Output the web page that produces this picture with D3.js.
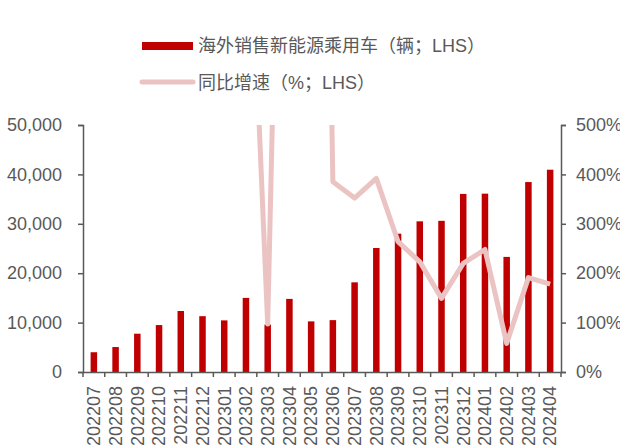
<!DOCTYPE html>
<head>
  <meta charset="utf-8">
  <title>海外销售新能源乘用车</title>
  <script src="https://d3js.org/d3.v7.min.js"></script>
  <style type="text/css">
    body {margin: 0; background: #fff;}
    text {font-family: "Liberation Sans", Arial, "Noto Sans CJK SC", sans-serif; fill: #595959;}
  </style>
</head>
<body>
  <div id="viz"></div>
</body>
<script type="text/javascript">

  const months = ["202207", "202208", "202209", "202210", "202211", "202212",
    "202301", "202302", "202303", "202304", "202305", "202306", "202307", "202308",
    "202309", "202310", "202311", "202312", "202401", "202402", "202403", "202404"];

  // overseas NEV passenger car sales (units)
  const sales = [4000, 5050, 7750, 9500, 12350, 11300, 10450, 15000, 9600, 14800, 10250,
    10500, 18150, 25100, 28000, 30500, 30600, 36050, 36100, 23300, 38450, 40950];

  // YoY growth (%), null where missing
  const yoy = [null, null, null, null, null, null, null, 1130, 97, 2000, 3000,
    385, 352, 392, 264, 223, 149, 220, 248, 58, 191, 178];

  const leftTicks = [0, 10000, 20000, 30000, 40000, 50000];
  const rightTicks = [0, 100, 200, 300, 400, 500];

  const colorSet = {
    bar: "#C00000",
    line: "#EBC3C3",
    axis: "#595959"
  };

  const FULLW = 620, FULLH = 446;
  const PLOT = {left: 83, right: 561, top: 125, bottom: 372};
  const FONT = "18px";

  const svg = d3.select("#viz").append("svg")
    .attr("width", FULLW)
    .attr("height", FULLH);

  const x = d3.scaleBand().domain(months).range([PLOT.left, PLOT.right]);
  const yL = d3.scaleLinear().domain([0, 50000]).range([PLOT.bottom, PLOT.top]);
  const yR = d3.scaleLinear().domain([0, 500]).range([PLOT.bottom, PLOT.top]);

  const BARW = 6.5;

  //bars
  svg.append("g").selectAll("rect")
    .data(sales)
    .join("rect")
    .attr("x", (d, i) => x(months[i]) + x.bandwidth() / 2 - BARW / 2)
    .attr("y", d => yL(d))
    .attr("width", BARW)
    .attr("height", d => yL(0) - yL(d))
    .attr("fill", colorSet.bar);

  //line, clipped to the plot area
  svg.append("clipPath").attr("id", "plotClip")
    .append("rect")
    .attr("x", PLOT.left)
    .attr("y", PLOT.top)
    .attr("width", PLOT.right - PLOT.left)
    .attr("height", PLOT.bottom - PLOT.top);

  const line = d3.line()
    .defined(d => d != null)
    .x((d, i) => x(months[i]) + x.bandwidth() / 2)
    .y(d => yR(d));

  svg.append("path")
    .datum(yoy)
    .attr("clip-path", "url(#plotClip)")
    .attr("d", line)
    .attr("fill", "none")
    .attr("stroke", colorSet.line)
    .attr("stroke-width", 5)
    .attr("stroke-linejoin", "round");

  //left axis
  const gL = svg.append("g")
    .attr("transform", "translate(" + PLOT.left + ",0)")
    .call(d3.axisLeft(yL).tickValues(leftTicks).tickSize(5).tickPadding(16)
      .tickFormat(d3.format(",")));

  //right axis
  const gR = svg.append("g")
    .attr("transform", "translate(" + PLOT.right + ",0)")
    .call(d3.axisRight(yR).tickValues(rightTicks).tickSize(5).tickPadding(10)
      .tickFormat(d => d + "%"));

  //bottom axis
  const gB = svg.append("g")
    .attr("transform", "translate(0," + PLOT.bottom + ")")
    .call(d3.axisBottom(x).tickSize(0).tickPadding(0));

  gB.selectAll(".tick text")
    .attr("transform", "rotate(-90)")
    .attr("x", -14)
    .attr("y", 0)
    .attr("dy", "0.35em")
    .style("text-anchor", "end");

  //ticks between categories
  const bounds = months.map(m => x(m)).concat([PLOT.right]);
  gB.selectAll(".bound")
    .data(bounds)
    .join("line")
    .attr("class", "bound")
    .attr("x1", d => d).attr("x2", d => d)
    .attr("y1", 0).attr("y2", 5)
    .attr("stroke", colorSet.axis);

  [gL, gR, gB].forEach(g => {
    g.selectAll("path, line").attr("stroke", colorSet.axis).attr("stroke-width", 1.5);
    g.selectAll("text").attr("fill", colorSet.axis).style("font-size", FONT)
      .style("font-family", "'Liberation Sans', Arial, sans-serif");
  });

  //legend
  const legend = svg.append("g");
  legend.append("rect")
    .attr("x", 142).attr("y", 42)
    .attr("width", 51).attr("height", 8)
    .attr("fill", colorSet.bar);
  legend.append("text")
    .attr("x", 198).attr("y", 46)
    .attr("dy", "0.35em")
    .style("font-size", FONT)
    .text("海外销售新能源乘用车（辆；LHS）");

  legend.append("line")
    .attr("x1", 142).attr("x2", 193)
    .attr("y1", 82).attr("y2", 82)
    .attr("stroke", colorSet.line)
    .attr("stroke-width", 5)
    .attr("stroke-linecap", "round");
  legend.append("text")
    .attr("x", 198).attr("y", 83)
    .attr("dy", "0.35em")
    .style("font-size", FONT)
    .text("同比增速（%；LHS）");

</script>
</html>
